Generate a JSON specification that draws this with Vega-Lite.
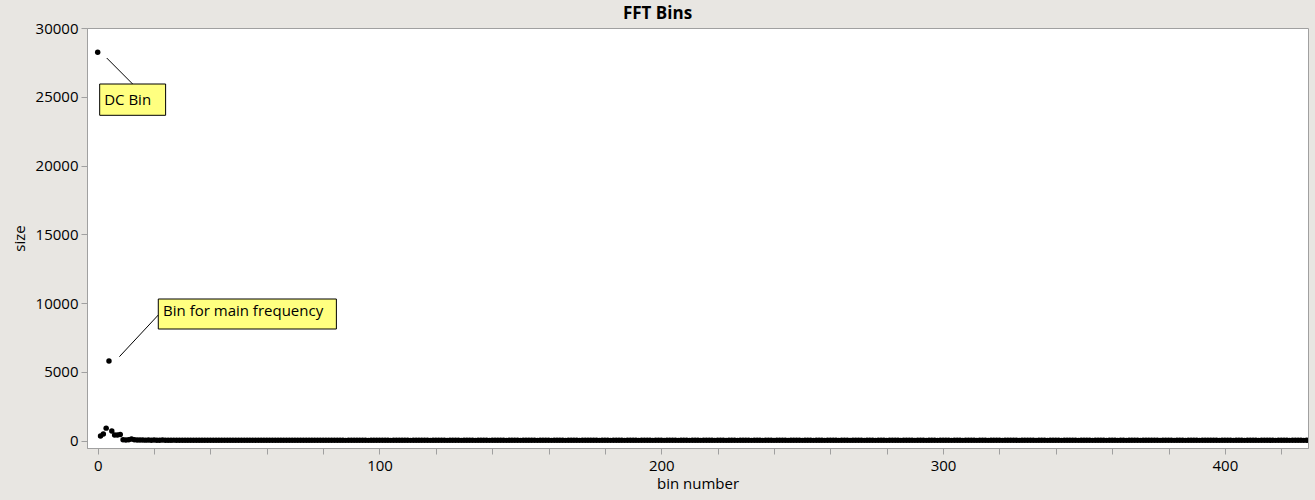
{
 "$schema": "https://vega.github.io/schema/vega-lite/v6.json",
 "width": 1221,
 "height": 420,
 "autosize": {"type": "none"},
 "padding": {"left": 87, "top": 28, "right": 7, "bottom": 52},
 "background": "#e8e6e2",
 "title": {"text": "FFT Bins", "fontSize": 17, "fontWeight": "bold", "font": "Open Sans", "color": "#000000", "anchor": "middle", "dx": -40, "offset": 8, "dy": 10},
 "config": {
  "view": {"fill": "white", "stroke": "#a0a0a0"},
  "axis": {"domainColor": "#a0a0a0", "tickColor": "#a0a0a0", "tickSize": 6, "labelFont": "Open Sans", "labelFontSize": 15, "labelColor": "#000000", "titleFont": "Open Sans", "titleFontSize": 15, "titleFontWeight": "normal", "titleColor": "#000000", "grid": false}
 },
 "datasets": {
  "bins": [
   {"bin":0,"size":28233},{"bin":1,"size":320},{"bin":2,"size":470},{"bin":3,"size":900},{"bin":4,"size":5782},{"bin":5,"size":690},{"bin":6,"size":400},{"bin":7,"size":400},{"bin":8,"size":430},{"bin":9,"size":60},
   {"bin":10,"size":40},{"bin":11,"size":50},{"bin":12,"size":110},{"bin":13,"size":60},{"bin":14,"size":45},
   {"bin":15,"size":38},{"bin":16,"size":30},{"bin":17,"size":27},{"bin":18,"size":33},{"bin":19,"size":24},{"bin":20,"size":29},{"bin":21,"size":22},{"bin":22,"size":26},{"bin":23,"size":31},{"bin":24,"size":20},
   {"bin":25,"size":24},{"bin":26,"size":19},{"bin":27,"size":27},{"bin":28,"size":22},{"bin":29,"size":18},{"bin":30,"size":25},{"bin":31,"size":21},{"bin":32,"size":17},{"bin":33,"size":23},{"bin":34,"size":20},
   {"bin":35,"size":16},{"bin":36,"size":22},{"bin":37,"size":19},{"bin":38,"size":24},{"bin":39,"size":18},{"bin":40,"size":15},{"bin":41,"size":21},{"bin":42,"size":17},{"bin":43,"size":20},{"bin":44,"size":14},
   {"bin":45,"size":19},{"bin":46,"size":23},{"bin":47,"size":16},{"bin":48,"size":18},{"bin":49,"size":21},{"bin":50,"size":15},{"bin":51,"size":17},{"bin":52,"size":20},{"bin":53,"size":13},{"bin":54,"size":18},
   {"bin":55,"size":16},{"bin":56,"size":19},{"bin":57,"size":14},{"bin":58,"size":17},{"bin":59,"size":21},{"bin":60,"size":15},{"bin":61,"size":18},{"bin":62,"size":12},{"bin":63,"size":16},{"bin":64,"size":19},
   {"bin":65,"size":14},{"bin":66,"size":17},{"bin":67,"size":13},{"bin":68,"size":18},{"bin":69,"size":15},{"bin":70,"size":11},{"bin":71,"size":16},{"bin":72,"size":19},{"bin":73,"size":14},{"bin":74,"size":12},
   {"bin":75,"size":17},{"bin":76,"size":13},{"bin":77,"size":15},{"bin":78,"size":18},{"bin":79,"size":12},{"bin":80,"size":14},{"bin":81,"size":16},{"bin":82,"size":11},{"bin":83,"size":15},{"bin":84,"size":13},
   {"bin":85,"size":12},{"bin":86,"size":16},{"bin":87,"size":14},{"bin":88,"size":10},{"bin":89,"size":15},{"bin":90,"size":13},{"bin":91,"size":17},{"bin":92,"size":11},{"bin":93,"size":14},{"bin":94,"size":12},
   {"bin":95,"size":15},{"bin":96,"size":10},{"bin":97,"size":13},{"bin":98,"size":16},{"bin":99,"size":12},{"bin":100,"size":14},{"bin":101,"size":11},{"bin":102,"size":15},{"bin":103,"size":13},{"bin":104,"size":10},
   {"bin":105,"size":14},{"bin":106,"size":12},{"bin":107,"size":16},{"bin":108,"size":11},{"bin":109,"size":13},{"bin":110,"size":15},{"bin":111,"size":10},{"bin":112,"size":12},{"bin":113,"size":14},{"bin":114,"size":11},
   {"bin":115,"size":13},{"bin":116,"size":15},{"bin":117,"size":12},{"bin":118,"size":10},{"bin":119,"size":14},{"bin":120,"size":11},{"bin":121,"size":13},{"bin":122,"size":16},{"bin":123,"size":12},{"bin":124,"size":10},
   {"bin":125,"size":11},{"bin":126,"size":14},{"bin":127,"size":12},{"bin":128,"size":15},{"bin":129,"size":10},{"bin":130,"size":13},{"bin":131,"size":11},{"bin":132,"size":12},{"bin":133,"size":14},{"bin":134,"size":10},
   {"bin":135,"size":12},{"bin":136,"size":15},{"bin":137,"size":11},{"bin":138,"size":13},{"bin":139,"size":10},{"bin":140,"size":14},{"bin":141,"size":12},{"bin":142,"size":11},{"bin":143,"size":13},{"bin":144,"size":15},
   {"bin":145,"size":10},{"bin":146,"size":12},{"bin":147,"size":14},{"bin":148,"size":11},{"bin":149,"size":13},{"bin":150,"size":10},{"bin":151,"size":12},{"bin":152,"size":15},{"bin":153,"size":11},{"bin":154,"size":13},
   {"bin":155,"size":14},{"bin":156,"size":10},{"bin":157,"size":12},{"bin":158,"size":11},{"bin":159,"size":13},{"bin":160,"size":15},{"bin":161,"size":10},{"bin":162,"size":12},{"bin":163,"size":14},{"bin":164,"size":11},
   {"bin":165,"size":12},{"bin":166,"size":10},{"bin":167,"size":13},{"bin":168,"size":11},{"bin":169,"size":14},{"bin":170,"size":12},{"bin":171,"size":10},{"bin":172,"size":13},{"bin":173,"size":11},{"bin":174,"size":12},
   {"bin":175,"size":15},{"bin":176,"size":11},{"bin":177,"size":13},{"bin":178,"size":10},{"bin":179,"size":12},{"bin":180,"size":14},{"bin":181,"size":11},{"bin":182,"size":10},{"bin":183,"size":13},{"bin":184,"size":12},
   {"bin":185,"size":11},{"bin":186,"size":13},{"bin":187,"size":10},{"bin":188,"size":12},{"bin":189,"size":14},{"bin":190,"size":11},{"bin":191,"size":12},{"bin":192,"size":10},{"bin":193,"size":13},{"bin":194,"size":11},
   {"bin":195,"size":12},{"bin":196,"size":14},{"bin":197,"size":10},{"bin":198,"size":11},{"bin":199,"size":13},{"bin":200,"size":12},{"bin":201,"size":10},{"bin":202,"size":14},{"bin":203,"size":11},{"bin":204,"size":12},
   {"bin":205,"size":13},{"bin":206,"size":10},{"bin":207,"size":12},{"bin":208,"size":11},{"bin":209,"size":14},{"bin":210,"size":10},{"bin":211,"size":12},{"bin":212,"size":13},{"bin":213,"size":11},{"bin":214,"size":10},
   {"bin":215,"size":12},{"bin":216,"size":14},{"bin":217,"size":11},{"bin":218,"size":13},{"bin":219,"size":10},{"bin":220,"size":12},{"bin":221,"size":11},{"bin":222,"size":14},{"bin":223,"size":10},{"bin":224,"size":12},
   {"bin":225,"size":13},{"bin":226,"size":11},{"bin":227,"size":10},{"bin":228,"size":12},{"bin":229,"size":14},{"bin":230,"size":11},{"bin":231,"size":13},{"bin":232,"size":10},{"bin":233,"size":12},{"bin":234,"size":11},
   {"bin":235,"size":14},{"bin":236,"size":10},{"bin":237,"size":12},{"bin":238,"size":13},{"bin":239,"size":11},{"bin":240,"size":10},{"bin":241,"size":12},{"bin":242,"size":14},{"bin":243,"size":11},{"bin":244,"size":13},
   {"bin":245,"size":10},{"bin":246,"size":12},{"bin":247,"size":11},{"bin":248,"size":13},{"bin":249,"size":14},{"bin":250,"size":10},{"bin":251,"size":12},{"bin":252,"size":11},{"bin":253,"size":13},{"bin":254,"size":10},
   {"bin":255,"size":12},{"bin":256,"size":14},{"bin":257,"size":11},{"bin":258,"size":10},{"bin":259,"size":13},{"bin":260,"size":12},{"bin":261,"size":11},{"bin":262,"size":14},{"bin":263,"size":10},{"bin":264,"size":12},
   {"bin":265,"size":11},{"bin":266,"size":13},{"bin":267,"size":10},{"bin":268,"size":12},{"bin":269,"size":14},{"bin":270,"size":11},{"bin":271,"size":12},{"bin":272,"size":10},{"bin":273,"size":13},{"bin":274,"size":11},
   {"bin":275,"size":12},{"bin":276,"size":10},{"bin":277,"size":14},{"bin":278,"size":11},{"bin":279,"size":13},{"bin":280,"size":10},{"bin":281,"size":12},{"bin":282,"size":11},{"bin":283,"size":14},{"bin":284,"size":12},
   {"bin":285,"size":10},{"bin":286,"size":13},{"bin":287,"size":11},{"bin":288,"size":12},{"bin":289,"size":14},{"bin":290,"size":10},{"bin":291,"size":11},{"bin":292,"size":13},{"bin":293,"size":12},{"bin":294,"size":10},
   {"bin":295,"size":14},{"bin":296,"size":11},{"bin":297,"size":12},{"bin":298,"size":10},{"bin":299,"size":13},{"bin":300,"size":12},{"bin":301,"size":11},{"bin":302,"size":14},{"bin":303,"size":10},{"bin":304,"size":12},
   {"bin":305,"size":11},{"bin":306,"size":13},{"bin":307,"size":10},{"bin":308,"size":12},{"bin":309,"size":14},{"bin":310,"size":11},{"bin":311,"size":13},{"bin":312,"size":10},{"bin":313,"size":12},{"bin":314,"size":11},
   {"bin":315,"size":13},{"bin":316,"size":10},{"bin":317,"size":12},{"bin":318,"size":14},{"bin":319,"size":11},{"bin":320,"size":12},{"bin":321,"size":10},{"bin":322,"size":13},{"bin":323,"size":11},{"bin":324,"size":12},
   {"bin":325,"size":14},{"bin":326,"size":11},{"bin":327,"size":10},{"bin":328,"size":12},{"bin":329,"size":13},{"bin":330,"size":11},{"bin":331,"size":12},{"bin":332,"size":14},{"bin":333,"size":10},{"bin":334,"size":13},
   {"bin":335,"size":11},{"bin":336,"size":12},{"bin":337,"size":10},{"bin":338,"size":13},{"bin":339,"size":14},{"bin":340,"size":11},{"bin":341,"size":12},{"bin":342,"size":10},{"bin":343,"size":13},{"bin":344,"size":11},
   {"bin":345,"size":12},{"bin":346,"size":14},{"bin":347,"size":11},{"bin":348,"size":10},{"bin":349,"size":13},{"bin":350,"size":12},{"bin":351,"size":11},{"bin":352,"size":14},{"bin":353,"size":10},{"bin":354,"size":12},
   {"bin":355,"size":13},{"bin":356,"size":11},{"bin":357,"size":12},{"bin":358,"size":10},{"bin":359,"size":14},{"bin":360,"size":11},{"bin":361,"size":13},{"bin":362,"size":10},{"bin":363,"size":12},{"bin":364,"size":11},
   {"bin":365,"size":10},{"bin":366,"size":12},{"bin":367,"size":14},{"bin":368,"size":11},{"bin":369,"size":13},{"bin":370,"size":10},{"bin":371,"size":12},{"bin":372,"size":11},{"bin":373,"size":14},{"bin":374,"size":12},
   {"bin":375,"size":11},{"bin":376,"size":13},{"bin":377,"size":10},{"bin":378,"size":12},{"bin":379,"size":14},{"bin":380,"size":11},{"bin":381,"size":12},{"bin":382,"size":10},{"bin":383,"size":13},{"bin":384,"size":11},
   {"bin":385,"size":12},{"bin":386,"size":10},{"bin":387,"size":13},{"bin":388,"size":11},{"bin":389,"size":14},{"bin":390,"size":12},{"bin":391,"size":10},{"bin":392,"size":13},{"bin":393,"size":11},{"bin":394,"size":12},
   {"bin":395,"size":14},{"bin":396,"size":11},{"bin":397,"size":12},{"bin":398,"size":10},{"bin":399,"size":13},{"bin":400,"size":11},{"bin":401,"size":12},{"bin":402,"size":14},{"bin":403,"size":10},{"bin":404,"size":13},
   {"bin":405,"size":11},{"bin":406,"size":12},{"bin":407,"size":10},{"bin":408,"size":13},{"bin":409,"size":14},{"bin":410,"size":11},{"bin":411,"size":12},{"bin":412,"size":10},{"bin":413,"size":13},{"bin":414,"size":11},
   {"bin":415,"size":12},{"bin":416,"size":14},{"bin":417,"size":11},{"bin":418,"size":10},{"bin":419,"size":13},{"bin":420,"size":12},{"bin":421,"size":11},{"bin":422,"size":14},{"bin":423,"size":10},{"bin":424,"size":12},
   {"bin":425,"size":13},{"bin":426,"size":11},{"bin":427,"size":12},{"bin":428,"size":10},{"bin":429,"size":14},{"bin":430,"size":12}
  ],
  "leaders": [
   {"bin":3.2,"size":27818,"bin2":12.4,"size2":25927},
   {"bin":7.7,"size":6095,"bin2":21.5,"size2":9127}
  ],
  "boxes": [
   {"bin":0.7,"size":25927,"bin2":24.1,"size2":23651,"label":"DC Bin","tx":2.3,"ty":24800},
   {"bin":21.5,"size":10291,"bin2":84.7,"size2":8109,"label":"Bin for main frequency","tx":23.2,"ty":9418}
  ]
 },
 "layer": [
  {
   "data": {"name": "bins"},
   "mark": {"type": "circle", "color": "#000000", "size": 30, "opacity": 1, "clip": true},
   "encoding": {
    "x": {"field": "bin", "type": "quantitative", "title": "bin number",
          "scale": {"domain": [-3.8, 429.5], "nice": false, "zero": false},
          "axis": {"values": [0,20,40,60,80,100,120,140,160,180,200,220,240,260,280,300,320,340,360,380,400,420], "format": "d", "labelExpr": "datum.value % 100 === 0 ? datum.label : ''", "labelPadding": 4, "titlePadding": 3}},
    "y": {"field": "size", "type": "quantitative", "title": "size",
          "scale": {"domain": [-545, 30000], "nice": false, "zero": false},
          "axis": {"values": [0,2500,5000,7500,10000,12500,15000,17500,20000,22500,25000,27500,30000], "format": "d", "labelExpr": "datum.value % 5000 === 0 ? datum.label : ''", "labelPadding": 3, "titlePadding": 8}}
   }
  },
  {
   "data": {"name": "leaders"},
   "mark": {"type": "rule", "color": "#000000", "strokeWidth": 1},
   "encoding": {
    "x": {"field": "bin", "type": "quantitative"},
    "y": {"field": "size", "type": "quantitative"},
    "x2": {"field": "bin2"},
    "y2": {"field": "size2"}
   }
  },
  {
   "data": {"name": "boxes"},
   "mark": {"type": "rect", "fill": "#ffff80", "stroke": "#000000", "strokeWidth": 1},
   "encoding": {
    "x": {"field": "bin", "type": "quantitative"},
    "y": {"field": "size", "type": "quantitative"},
    "x2": {"field": "bin2"},
    "y2": {"field": "size2"}
   }
  },
  {
   "data": {"name": "boxes"},
   "mark": {"type": "text", "align": "left", "baseline": "middle", "font": "Open Sans", "fontSize": 15, "color": "#000000"},
   "encoding": {
    "x": {"field": "tx", "type": "quantitative"},
    "y": {"field": "ty", "type": "quantitative"},
    "text": {"field": "label"}
   }
  }
 ]
}
